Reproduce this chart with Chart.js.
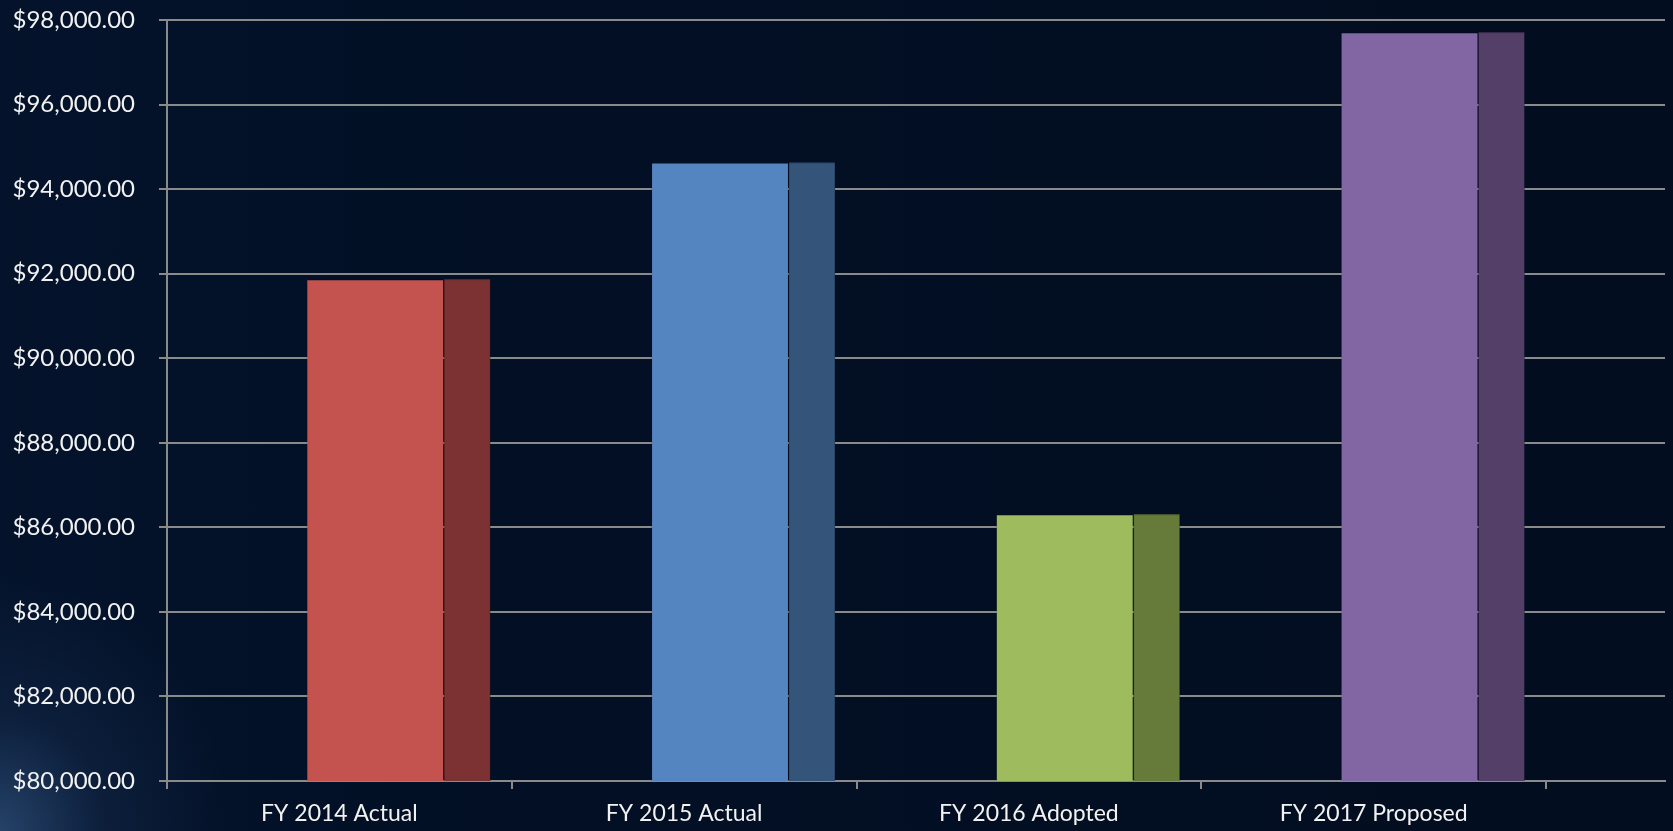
<!DOCTYPE html>
<html>
<head>
<meta charset="utf-8">
<script src="https://cdn.jsdelivr.net/npm/chart.js@4.4.0/dist/chart.umd.min.js"></script>
<style>
    html, body {
        margin: 0;
        padding: 0;
        width: 1673px;
        height: 831px;
        overflow: hidden;
    }
    body {
        background:
            radial-gradient(ellipse 230px 260px at 0% 100%, rgba(45, 78, 120, 0.8) 0%, rgba(20, 42, 75, 0.5) 45%, rgba(2, 15, 34, 0) 100%),
            linear-gradient(90deg, #04132b 0%, #021026 25%, #020d1f 100%);
    }
    #wrap {
        position: relative;
        width: 1673px;
        height: 831px;
    }
</style>
</head>
<body>
<div id="wrap"><canvas id="budgetChart" width="1673" height="831"></canvas></div>
<script>
const categories = ['FY 2014 Actual', 'FY 2015 Actual', 'FY 2016 Adopted', 'FY 2017 Proposed'];
const values = [91870, 94630, 86310, 97710];
const frontColors = ['#C4534F', '#5585C0', '#9EBB5E', '#8266A3'];
const sideColors = ['#7C3232', '#34547A', '#667A3A', '#543F68'];
const yTicks = [80000, 82000, 84000, 86000, 88000, 90000, 92000, 94000, 96000, 98000];

document.addEventListener('DOMContentLoaded', () => {
    const ctx = document.getElementById('budgetChart').getContext('2d');

    Chart.defaults.font.family = 'Lato, "Open Sans", sans-serif';
    Chart.defaults.color = '#ececec';

    const gridGray = '#8a8a8a';

    // fake 3D: shift the front faces right and add a darker side face
    const barDepth = {
        id: 'barDepth',
        beforeDatasetsDraw(chart) {
            const bar = chart.getDatasetMeta(0).data[0];
            const c = chart.ctx;
            const area = chart.chartArea;
            c.save();
            c.beginPath();
            c.rect(area.left, area.top, area.right - area.left, area.bottom - area.top);
            c.clip();
            c.translate(bar ? bar.width * 0.26 : 0, 0);
        },
        afterDatasetsDraw(chart) {
            const c = chart.ctx;
            const bottom = chart.chartArea.bottom;
            chart.getDatasetMeta(0).data.forEach((bar, i) => {
                const right = bar.x + bar.width / 2;
                const depth = bar.width / 3;
                const h = Math.min(bar.base, bottom) - bar.y;
                c.fillStyle = sideColors[i];
                c.fillRect(right, bar.y, depth, h);
                c.strokeStyle = 'rgba(0,0,0,0.2)';
                c.lineWidth = 1;
                c.strokeRect(right, bar.y + 0.5, depth, h);
            });
            c.restore();
        }
    };

    new Chart(ctx, {
        type: 'bar',
        data: {
            datasets: [{
                data: categories.map((c, i) => ({ x: i, y: values[i] })),
                backgroundColor: frontColors,
                borderColor: 'rgba(0,0,0,0.15)',
                borderWidth: 1,
                borderSkipped: 'bottom',
                categoryPercentage: 1,
                barPercentage: 0.4
            }]
        },
        options: {
            responsive: false,
            animation: false,
            layout: {
                padding: { top: 20, right: 8, left: 0, bottom: 0 }
            },
            plugins: {
                legend: { display: false },
                tooltip: { enabled: false }
            },
            scales: {
                x: {
                    type: 'linear',
                    offset: false,
                    min: -0.5,
                    max: categories.length - 0.5 + 0.345,
                    afterBuildTicks: (scale) => {
                        scale.ticks = categories.map((c, i) => ({ value: i }));
                    },
                    afterFit: (scale) => {
                        scale.height = 50;
                    },
                    grid: {
                        offset: true,
                        drawOnChartArea: false,
                        drawTicks: true,
                        tickLength: 8,
                        color: gridGray,
                        lineWidth: 2
                    },
                    border: { display: true, color: gridGray, width: 2 },
                    ticks: {
                        autoSkip: false,
                        maxRotation: 0,
                        padding: 11,
                        color: '#f2f2f2',
                        font: { size: 23 },
                        callback: (v) => categories[v] ?? ''
                    }
                },
                y: {
                    min: yTicks[0],
                    max: yTicks[yTicks.length - 1],
                    afterBuildTicks: (scale) => {
                        scale.ticks = yTicks.map(v => ({ value: v }));
                    },
                    afterFit: (scale) => {
                        scale.width = 167;
                        scale.paddingTop = 14;
                        scale.paddingBottom = 14;
                    },
                    grid: {
                        color: gridGray,
                        lineWidth: 2,
                        tickLength: 8
                    },
                    border: { display: true, color: gridGray, width: 2 },
                    ticks: {
                        padding: 24,
                        color: '#f2f2f2',
                        font: { size: 24 },
                        callback: (v) => '$' + Number(v).toLocaleString('en-US', { minimumFractionDigits: 2, maximumFractionDigits: 2 })
                    }
                }
            }
        },
        plugins: [barDepth]
    });
});
</script>
</body>
</html>
